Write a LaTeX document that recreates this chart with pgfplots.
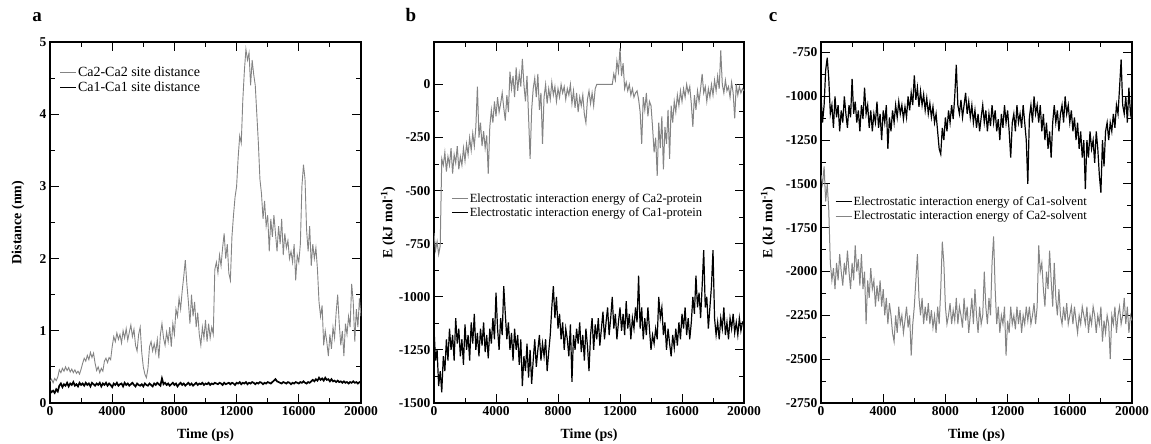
\documentclass[border=0pt]{standalone}
\usepackage{fontspec}
\setmainfont{Liberation Serif}
\usepackage{pgfplots}
\usepackage{pgfplotstable}
\pgfplotsset{compat=1.18}

\definecolor{lgray}{RGB}{132,132,132}

% panel a: Ca2-Ca2 (g) and Ca1-Ca1 (k) site distance, nm
\pgfplotstableread{
t g k
0 0.30 0.18
100 0.33 0.15
200 0.28 0.17
300 0.34 0.14
400 0.31 0.19
500 0.36 0.16
600 0.46 0.24
700 0.42 0.27
800 0.48 0.22
900 0.44 0.26
1000 0.50 0.24
1100 0.45 0.28
1200 0.49 0.23
1300 0.43 0.27
1400 0.47 0.25
1500 0.42 0.29
1600 0.46 0.24
1700 0.41 0.26
1800 0.44 0.23
1900 0.40 0.28
2000 0.47 0.25
2100 0.55 0.27
2200 0.62 0.24
2300 0.58 0.28
2400 0.66 0.25
2500 0.60 0.27
2600 0.70 0.23
2700 0.63 0.28
2800 0.69 0.26
2900 0.55 0.24
3000 0.45 0.27
3100 0.50 0.25
3200 0.42 0.28
3300 0.48 0.23
3400 0.44 0.27
3500 0.58 0.25
3600 0.62 0.28
3700 0.56 0.24
3800 0.63 0.27
3900 0.60 0.25
4000 0.78 0.22
4100 0.92 0.27
4200 0.85 0.25
4300 0.97 0.28
4400 0.88 0.24
4500 0.95 0.26
4600 0.83 0.27
4700 1.00 0.23
4800 0.90 0.28
4900 1.03 0.25
5000 0.87 0.27
5100 0.98 0.24
5200 1.08 0.26
5300 0.92 0.28
5400 1.02 0.25
5500 0.80 0.23
5600 0.72 0.27
5700 0.95 0.25
5800 1.05 0.24
5900 0.70 0.26
6000 0.50 0.23
6100 0.40 0.27
6200 0.35 0.25
6300 0.48 0.24
6400 0.78 0.27
6500 0.85 0.25
6600 0.72 0.23
6700 0.82 0.27
6800 0.70 0.25
6900 0.88 0.28
7000 0.62 0.26
7100 0.95 0.24
7200 1.10 0.34
7300 0.90 0.26
7400 0.80 0.28
7500 0.98 0.25
7600 0.85 0.27
7700 1.05 0.24
7800 0.78 0.26
7900 1.10 0.28
8000 0.95 0.25
8100 1.30 0.27
8200 1.20 0.23
8300 1.45 0.26
8400 1.30 0.28
8500 1.55 0.25
8600 1.75 0.27
8700 1.98 0.24
8800 1.65 0.26
8900 1.40 0.28
9000 1.10 0.25
9100 1.50 0.27
9200 1.20 0.24
9300 1.40 0.26
9400 1.05 0.28
9500 1.25 0.25
9600 0.95 0.27
9700 0.80 0.26
9800 1.05 0.28
9900 0.90 0.25
10000 1.15 0.27
10100 0.85 0.26
10200 1.10 0.28
10300 0.90 0.25
10400 1.05 0.27
10500 0.95 0.26
10600 1.85 0.28
10700 1.95 0.27
10800 1.80 0.26
10900 2.05 0.28
11000 1.90 0.27
11100 2.15 0.25
11200 2.35 0.28
11300 2.00 0.26
11400 2.20 0.27
11500 1.80 0.28
11600 1.70 0.26
11700 2.30 0.28
11800 2.60 0.27
11900 2.85 0.25
12000 3.00 0.28
12100 3.40 0.27
12200 3.70 0.29
12300 3.60 0.26
12400 4.20 0.28
12500 4.60 0.27
12600 4.90 0.29
12700 4.75 0.26
12800 4.85 0.28
12900 4.40 0.27
13000 4.75 0.29
13100 4.55 0.28
13200 4.40 0.26
13300 4.00 0.28
13400 3.60 0.27
13500 3.10 0.29
13600 2.90 0.28
13700 2.55 0.26
13800 2.80 0.28
13900 2.45 0.27
14000 2.60 0.29
14100 2.10 0.28
14200 2.55 0.27
14300 2.30 0.29
14400 2.60 0.31
14500 2.35 0.33
14600 2.10 0.30
14700 2.45 0.29
14800 2.20 0.28
14900 2.55 0.27
15000 2.05 0.29
15100 2.35 0.28
15200 2.15 0.27
15300 2.25 0.29
15400 2.00 0.28
15500 2.10 0.26
15600 1.95 0.28
15700 2.20 0.27
15800 1.70 0.29
15900 2.05 0.28
16000 1.95 0.27
16100 2.20 0.29
16200 3.00 0.28
16300 3.30 0.30
16400 3.10 0.28
16500 2.40 0.27
16600 2.10 0.29
16700 2.45 0.28
16800 1.90 0.30
16900 2.20 0.32
17000 2.00 0.30
17100 2.15 0.33
17200 1.85 0.31
17300 1.40 0.35
17400 1.20 0.32
17500 1.35 0.34
17600 0.80 0.31
17700 1.00 0.35
17800 0.85 0.32
17900 0.65 0.33
18000 0.95 0.30
18100 0.75 0.33
18200 1.05 0.30
18300 0.90 0.31
18400 1.25 0.29
18500 1.50 0.31
18600 1.10 0.29
18700 0.80 0.30
18800 1.00 0.28
18900 0.65 0.30
19000 1.10 0.28
19100 0.95 0.29
19200 1.20 0.27
19300 1.05 0.29
19400 1.65 0.28
19500 1.40 0.30
19600 0.85 0.28
19700 1.30 0.29
19800 1.05 0.27
19900 1.45 0.29
20000 1.20 0.28
}\tabA

% panel b: Ca2-protein (g) and Ca1-protein (k), kJ/mol
\pgfplotstableread{
t g k
0 -700 -1150
100 -780 -1300
200 -740 -1250
300 -800 -1420
400 -760 -1350
500 -350 -1450
600 -380 -1280
700 -320 -1350
800 -410 -1200
900 -340 -1300
1000 -380 -1150
1100 -300 -1250
1200 -420 -1180
1300 -330 -1300
1400 -370 -1100
1500 -290 -1220
1600 -400 -1150
1700 -340 -1280
1800 -380 -1200
1900 -300 -1320
2000 -360 -1130
2100 -280 -1250
2200 -330 -1180
2300 -250 -1300
2400 -310 -1120
2500 -230 -1220
2600 -290 -1080
2700 -200 -1250
2800 -10 -1170
2900 -250 -1280
3000 -180 -1150
3100 -290 -1230
3200 -220 -1120
3300 -300 -1260
3400 -240 -1180
3500 -420 -1290
3600 -200 -1150
3700 -120 -1220
3800 -180 -1100
3900 -80 -1200
4000 -150 -980
4100 -60 -1150
4200 -130 -1250
4300 -90 -1100
4400 -40 -1180
4500 -110 -950
4600 -170 -1080
4700 -50 -1200
4800 -130 -1120
4900 60 -1250
5000 -20 -1170
5100 40 -1300
5200 -60 -1150
5300 80 -1250
5400 -30 -1180
5500 50 -1320
5600 -10 -1200
5700 120 -1420
5800 0 -1280
5900 -80 -1350
6000 40 -1220
6100 -150 -1380
6200 -350 -1250
6300 -120 -1410
6400 -20 -1300
6500 30 -1200
6600 -60 -1330
6700 50 -1250
6800 -120 -1180
6900 -40 -1300
7000 -280 -1220
7100 -60 -1280
7200 0 -1200
7300 -90 -1350
7400 -20 -1260
7500 -70 -1180
7600 10 -1050
7700 -50 -950
7800 -10 -1100
7900 -80 -1000
8000 -20 -1150
8100 -60 -1080
8200 0 -1200
8300 -40 -1120
8400 -10 -1250
8500 -70 -1150
8600 -20 -1200
8700 -50 -1280
8800 0 -1130
8900 -90 -1400
9000 -30 -1180
9100 -110 -1250
9200 -40 -1150
9300 -130 -1220
9400 -60 -1120
9500 -100 -1260
9600 -50 -1180
9700 -140 -1300
9800 -180 -1150
9900 -70 -1230
10000 -30 -1350
10100 -90 -1180
10200 -40 -1100
10300 -100 -1250
10400 -20 -1130
10500 0 -1200
10600 0 -1100
10700 0 -1230
10800 0 -1150
10900 0 -1070
11000 0 -1200
11100 0 -1120
11200 0 -1050
11300 0 -1180
11400 0 -1100
11500 0 -1000
11600 50 -1150
11700 20 -1080
11800 110 -1200
11900 60 -1120
12000 170 -1050
12100 40 -1160
12200 100 -1080
12300 -20 -1180
12400 10 -1020
12500 -30 -1150
12600 0 -1080
12700 -50 -1200
12800 -20 -1100
12900 -60 -1150
13000 -40 -1050
13100 -30 -1120
13200 -70 -900
13300 -130 -1150
13400 -280 -1050
13500 -60 -1200
13600 -120 -1100
13700 -40 -1180
13800 -150 -1050
13900 -80 -1150
14000 -100 -1250
14100 -200 -1180
14200 -320 -1220
14300 -250 -1150
14400 -430 -1200
14500 -180 -1000
14600 -300 -1100
14700 -150 -1050
14800 -400 -1180
14900 -200 -1120
15000 -280 -1250
15100 -120 -1150
15200 -350 -1220
15300 -100 -1280
15400 -180 -1180
15500 -80 -1240
15600 -130 -1150
15700 -50 -1230
15800 -100 -1120
15900 -30 -1200
16000 -80 -1080
16100 -20 -1150
16200 -60 -1050
16300 0 -1180
16400 -40 -1100
16500 -10 -1200
16600 -90 -1120
16700 -200 -1000
16800 -50 -1080
16900 -120 -900
17000 -30 -1050
17100 -80 -980
17200 -20 -1100
17300 50 -950
17400 -40 -780
17500 -10 -1050
17600 -80 -1000
17700 -20 -1150
17800 -60 -1050
17900 0 -950
18000 -50 -780
18100 20 -1100
18200 -30 -1180
18300 40 -1120
18400 -20 -1200
18500 160 -1100
18600 0 -1150
18700 -40 -1050
18800 20 -1180
18900 -30 -1120
19000 -10 -1200
19100 -60 -1100
19200 10 -1150
19300 -40 -1080
19400 -160 -1170
19500 0 -1120
19600 -50 -1180
19700 -10 -1100
19800 -40 -1160
19900 -20 -1120
20000 -30 -1130
}\tabB

% panel c: Ca1-solvent (k) and Ca2-solvent (g), kJ/mol
\pgfplotstableread{
t k g
0 -1000 -1450
100 -1150 -1500
200 -1050 -1400
300 -850 -1600
400 -780 -1500
500 -900 -1650
600 -1100 -1950
700 -1050 -2050
800 -1180 -1980
900 -1000 -2100
1000 -1120 -1950
1100 -1050 -2050
1200 -1200 -1900
1300 -1080 -2000
1400 -1150 -2080
1500 -1000 -1950
1600 -1100 -2020
1700 -1180 -1880
1800 -1050 -2000
1900 -1120 -2100
2000 -900 -1950
2100 -1100 -2050
2200 -1030 -1850
2300 -1150 -2000
2400 -1080 -1930
2500 -1200 -2080
2600 -1050 -1900
2700 -1130 -2100
2800 -950 -2000
2900 -1100 -2300
3000 -1050 -2050
3100 -1180 -2150
3200 -1080 -1980
3300 -1200 -2100
3400 -1100 -2050
3500 -1150 -2200
3600 -1030 -2080
3700 -1180 -2170
3800 -1100 -2050
3900 -1250 -2200
4000 -1080 -2100
4100 -1150 -2250
4200 -1050 -2150
4300 -1300 -2300
4400 -1120 -2180
4500 -1200 -2250
4600 -1080 -2350
4700 -1150 -2400
4800 -1050 -2250
4900 -1120 -2350
5000 -1030 -2200
5100 -1100 -2300
5200 -1050 -2250
5300 -1130 -2350
5400 -1060 -2280
5500 -1120 -2200
5600 -1000 -2320
5700 -1080 -2250
5800 -980 -2480
5900 -1050 -2300
6000 -880 -2200
6100 -1020 -2050
6200 -950 -1900
6300 -1060 -2150
6400 -970 -2250
6500 -1050 -2150
6600 -990 -2300
6700 -1080 -2200
6800 -1010 -2280
6900 -1100 -2180
7000 -1040 -2300
7100 -1120 -2220
7200 -1060 -2320
7300 -1150 -2250
7400 -1100 -2350
7500 -1200 -2200
7600 -1300 -2300
7700 -1330 -2100
7800 -1180 -1830
7900 -1250 -1950
8000 -1120 -2200
8100 -1200 -2300
8200 -1080 -2250
8300 -1150 -2180
8400 -1050 -2300
8500 -1130 -2220
8600 -1000 -2280
8700 -820 -2150
8800 -1050 -2300
8900 -1100 -2200
9000 -1020 -2250
9100 -1120 -2320
9200 -1050 -2150
9300 -980 -2280
9400 -1100 -2200
9500 -1030 -2350
9600 -1120 -2250
9700 -1050 -2150
9800 -1150 -2300
9900 -1080 -2100
10000 -1180 -2250
10100 -1100 -2350
10200 -1200 -2200
10300 -1120 -2300
10400 -1050 -2250
10500 -1150 -2000
10600 -1080 -2200
10700 -1200 -2300
10800 -1100 -2150
10900 -1170 -2250
11000 -1050 -1950
11100 -1150 -1800
11200 -1080 -2100
11300 -1200 -2300
11400 -1130 -2200
11500 -1250 -2350
11600 -1100 -2250
11700 -1180 -2300
11800 -1050 -2200
11900 -1150 -2480
12000 -1080 -2280
12100 -1200 -2350
12200 -1350 -2200
12300 -1150 -2300
12400 -1100 -2250
12500 -1200 -2330
12600 -1050 -2200
12700 -1150 -2300
12800 -1100 -2220
12900 -1180 -2350
13000 -1050 -2250
13100 -1150 -2300
13200 -1250 -2200
13300 -1500 -2280
13400 -1120 -2200
13500 -1050 -2300
13600 -1150 -2250
13700 -1000 -2180
13800 -1100 -2300
13900 -1050 -2200
14000 -1150 -1850
14100 -1050 -2000
14200 -1200 -1950
14300 -1100 -2100
14400 -1250 -2200
14500 -1150 -2000
14600 -1300 -2100
14700 -1200 -1880
14800 -1350 -2050
14900 -1150 -2200
15000 -1050 -1950
15100 -1150 -2150
15200 -1080 -2250
15300 -1200 -2100
15400 -1100 -2250
15500 -1050 -2300
15600 -1150 -2200
15700 -1000 -2280
15800 -1100 -2180
15900 -1050 -2300
16000 -1150 -2250
16100 -1080 -2200
16200 -1200 -2300
16300 -1120 -2200
16400 -1250 -2280
16500 -1150 -2350
16600 -1300 -2250
16700 -1200 -2300
16800 -1350 -2200
16900 -1250 -2250
17000 -1530 -2300
17100 -1250 -2200
17200 -1350 -2350
17300 -1200 -2250
17400 -1300 -2300
17500 -1250 -2200
17600 -1380 -2250
17700 -1200 -2350
17800 -1300 -2250
17900 -1450 -2300
18000 -1550 -2200
18100 -1250 -2400
18200 -1400 -2280
18300 -1200 -2350
18400 -1150 -2250
18500 -1250 -2300
18600 -1150 -2500
18700 -1200 -2250
18800 -1100 -2300
18900 -1180 -2200
19000 -1050 -2350
19100 -1100 -2250
19200 -950 -2200
19300 -790 -2300
19400 -1050 -2250
19500 -1100 -2150
19600 -1000 -2300
19700 -1150 -2200
19800 -950 -2350
19900 -1100 -2250
20000 -1050 -2280
}\tabC

\pgfplotsset{
  panel/.style={
    scale only axis,
    width=311pt, height=361pt,
    xmin=0, xmax=20000,
    xtick={0,4000,8000,12000,16000,20000},
    minor x tick num=1, minor y tick num=1,
    scaled ticks=false,
    /pgf/number format/1000 sep={},
    /pgf/number format/assume math mode=true,
    tick label style={font=\fontsize{13.5}{14}\selectfont\bfseries},
    label style={font=\fontsize{14}{15}\selectfont\bfseries},
    axis line style={line width=1.1pt},
    every tick/.style={black, line width=0.9pt},
    major tick length=9pt, minor tick length=5pt,
    xlabel={Time (ps)},
    xlabel style={at={(axis description cs:0.5,-0.088)}, anchor=center},
    legend cell align=left,
    legend image code/.code={\draw[#1, line width=1pt] (0pt,0pt) -- (16pt,0pt);},
    legend style={draw=none, fill=none, font=\fontsize{12.5}{13}\selectfont,
      inner sep=0pt, row sep=1pt, nodes={inner sep=1.5pt}},
  }
}

\begin{document}
\begin{tikzpicture}
\useasboundingbox (0,0) rectangle (1151pt,444pt);

% ---- a ----
\begin{axis}[panel, at={(50pt,41pt)}, anchor=south west,
  ymin=0, ymax=5, ytick={0,1,2,3,4,5},
  ylabel={Distance (nm)},
  ylabel style={at={(axis description cs:-0.103,0.5)}, anchor=center},
  legend style={at={(axis description cs:0.03,0.937)}, anchor=north west,
    font=\fontsize{14}{15}\selectfont}]
\addplot[lgray, line width=0.9pt] table[x=t, y=g] {\tabA};
\addlegendentry{Ca2-Ca2 site distance}
\addplot[black, line width=1.7pt] table[x=t, y=k] {\tabA};
\addlegendentry{Ca1-Ca1 site distance}
\end{axis}

% ---- b ----
\begin{axis}[panel, at={(434pt,41pt)}, anchor=south west,
  width=310pt,
  ymin=-1500, ymax=200, ytick={-1500,-1250,-1000,-750,-500,-250,0},
  ylabel={E (kJ mol\textsuperscript{-1})},
  ylabel style={at={(axis description cs:-0.148,0.5)}, anchor=center},
  legend style={at={(axis description cs:0.055,0.585)}, anchor=north west}]
\addplot[lgray, line width=1pt] table[x=t, y=g] {\tabB};
\addlegendentry{Electrostatic interaction energy of Ca2-protein}
\addplot[black, line width=1.2pt] table[x=t, y=k] {\tabB};
\addlegendentry{Electrostatic interaction energy of Ca1-protein}
\end{axis}

% ---- c ----
\begin{axis}[panel, at={(821pt,41pt)}, anchor=south west,
  ymin=-2750, ymax=-690, ytick={-2750,-2500,-2250,-2000,-1750,-1500,-1250,-1000,-750},
  ylabel={E (kJ mol\textsuperscript{-1})},
  ylabel style={at={(axis description cs:-0.17,0.5)}, anchor=center},
  legend style={at={(axis description cs:0.045,0.576)}, anchor=north west}]
\addplot[black, line width=1.2pt] table[x=t, y=k] {\tabC};
\addlegendentry{Electrostatic interaction energy of Ca1-solvent}
\addplot[lgray, line width=1pt] table[x=t, y=g] {\tabC};
\addlegendentry{Electrostatic interaction energy of Ca2-solvent}
\end{axis}

\node[anchor=base, font=\fontsize{19}{19}\selectfont\bfseries] at (37pt,422pt) {a};
\node[anchor=base, font=\fontsize{19}{19}\selectfont\bfseries] at (411pt,422pt) {b};
\node[anchor=base, font=\fontsize{19}{19}\selectfont\bfseries] at (773pt,422pt) {c};
\end{tikzpicture}
\end{document}
